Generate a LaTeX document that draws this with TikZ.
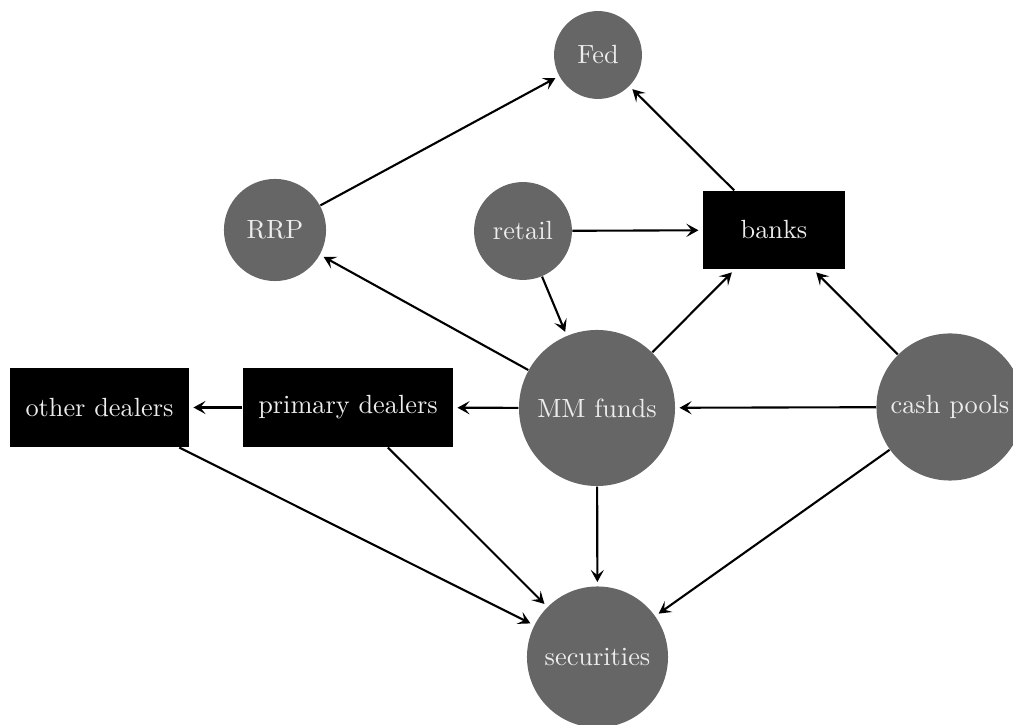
\documentclass[tikz,border=0pt]{standalone}
\usetikzlibrary{arrows.meta}
\begin{document}
\begin{tikzpicture}[x=0.38pt,y=-0.38pt,
  circ/.style={circle,fill=black!60,text=white!93!black,inner sep=0pt},
  boxn/.style={rectangle,fill=black,text=white!93!black,inner sep=0pt},
  arr/.style={-{Stealth[length=4.6pt,width=5pt,inset=2pt]},thick,shorten >=1.5pt}]
\useasboundingbox (0,0) rectangle (1013,725);
\node[circ,minimum size=33.4pt] (fed) at (598,55) {Fed};
\node[circ,minimum size=38.8pt] (rrp) at (275,230) {RRP};
\node[circ,minimum size=37.2pt] (retail) at (523,231) {retail};
\node[boxn,minimum width=54pt,minimum height=29.7pt] (banks) at (774,230) {banks};
\node[circ,minimum size=59.3pt] (mm) at (597,408) {MM funds};
\node[circ,minimum size=55.9pt] (cash) at (950,407) {cash pools};
\node[boxn,minimum width=68pt,minimum height=30pt] (other) at (99.5,407.5) {other dealers};
\node[boxn,minimum width=79.8pt,minimum height=30pt] (primary) at (348,407.5) {primary dealers};
\node[circ,minimum size=53.6pt] (sec) at (597.5,657) {securities};
\draw[arr] (rrp) -- (fed);
\draw[arr] (banks) -- (fed);
\draw[arr] (retail) -- (banks);
\draw[arr] (retail) -- (mm);
\draw[arr] (mm) -- (rrp);
\draw[arr] (mm) -- (banks);
\draw[arr] (cash) -- (banks);
\draw[arr] (mm) -- (primary);
\draw[arr] (primary) -- (other);
\draw[arr] (cash) -- (mm);
\draw[arr] (mm) -- (sec);
\draw[arr] (cash) -- (sec);
\draw[arr] (other) -- (sec);
\draw[arr] (primary) -- (sec);
\end{tikzpicture}
\end{document}
